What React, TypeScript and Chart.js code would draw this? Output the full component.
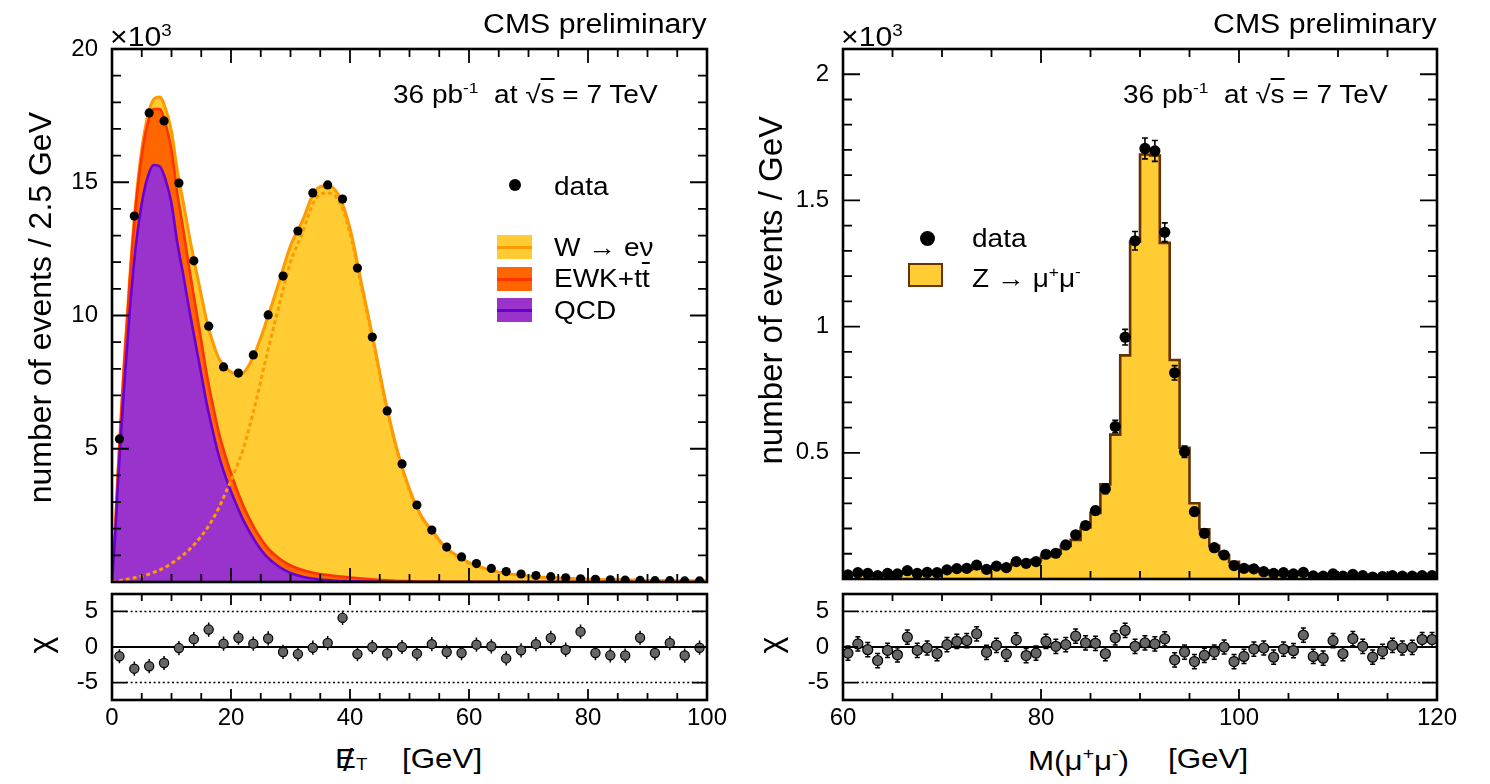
import React, { useEffect, useRef } from 'react';
import { Chart, registerables } from 'chart.js';

Chart.register(...registerables);

const FONT = "'Liberation Sans', Arial, Helvetica, sans-serif";
const SX = 1.12;

// ---------------- left panel: missing E_T ----------------
const MET_BIN_CENTERS = [1.25, 3.75, 6.25, 8.75, 11.25, 13.75, 16.25, 18.75, 21.25, 23.75, 26.25, 28.75, 31.25, 33.75, 36.25, 38.75, 41.25, 43.75, 46.25, 48.75, 51.25, 53.75, 56.25, 58.75, 61.25, 63.75, 66.25, 68.75, 71.25, 73.75, 76.25, 78.75, 81.25, 83.75, 86.25, 88.75, 91.25, 93.75, 96.25, 98.75];
const MET_DATA = [5.37, 13.73, 17.6, 17.3, 14.97, 12.05, 9.6, 8.07, 7.84, 8.52, 10.02, 11.48, 13.17, 14.6, 14.9, 14.37, 11.78, 9.19, 6.42, 4.43, 2.89, 1.95, 1.31, 0.94, 0.69, 0.51, 0.39, 0.3, 0.24, 0.2, 0.16, 0.12, 0.1, 0.08, 0.07, 0.06, 0.05, 0.05, 0.04, 0.04];
const MET_CHI = [-1.3, -3.05, -2.7, -2.25, -0.15, 1.1, 2.45, 0.47, 1.3, 0.47, 1.2, -0.7, -1.0, -0.1, 0.56, 4.1, -1.0, 0.0, -0.9, 0.0, -0.94, 0.4, -0.7, -0.85, 0.33, 0.1, -1.6, -0.47, 0.4, 1.27, -0.38, 2.16, -0.85, -1.17, -1.2, 1.3, -0.85, 0.56, -1.2, -0.1];
const MET_CURVE_X = [0, 0.5, 1, 1.5, 2, 3, 4, 5, 6, 7, 8, 9, 10, 11, 12, 13, 14, 15, 16, 17, 18, 19, 20, 21, 22, 24, 26, 28, 30, 32, 34, 36, 38, 40, 42, 44, 46, 48, 50, 52, 54, 56, 58, 60, 62, 65, 70, 75, 80, 85, 90, 95, 100];
const MET_QCD = [0, 1.6, 3.7, 5.5, 7.2, 10.2, 12.6, 14.2, 15.2, 15.65, 15.6, 15.1, 14.2, 12.7, 11.5, 10.2, 9.0, 7.8, 6.6, 5.6, 4.7, 4.0, 3.4, 2.85, 2.35, 1.55, 0.95, 0.58, 0.34, 0.2, 0.12, 0.07, 0.04, 0.03, 0.02, 0.01, 0, 0, 0, 0, 0, 0, 0, 0, 0, 0, 0, 0, 0, 0, 0, 0, 0];
const MET_EWK = [0, 0.2, 0.4, 0.6, 0.8, 1.15, 1.5, 1.8, 2.0, 2.1, 2.15, 2.1, 2.0, 1.85, 1.7, 1.55, 1.4, 1.25, 1.1, 0.98, 0.87, 0.77, 0.68, 0.6, 0.54, 0.44, 0.37, 0.32, 0.28, 0.25, 0.22, 0.2, 0.17, 0.14, 0.11, 0.08, 0.06, 0.04, 0.03, 0.02, 0.02, 0.01, 0.01, 0.01, 0.01, 0, 0, 0, 0, 0, 0, 0, 0];
const MET_WENU = [0, 0.02, 0.04, 0.06, 0.08, 0.12, 0.17, 0.22, 0.28, 0.36, 0.45, 0.56, 0.7, 0.85, 1.02, 1.22, 1.45, 1.72, 2.02, 2.38, 2.8, 3.3, 3.8, 4.35, 4.95, 6.6, 8.5, 10.3, 12.0, 13.1, 14.3, 14.6, 14.35, 13.1, 11.0, 8.9, 6.7, 4.85, 3.45, 2.45, 1.85, 1.3, 0.98, 0.72, 0.55, 0.37, 0.22, 0.15, 0.1, 0.08, 0.06, 0.05, 0.04];
const MET_X_TICKS = [0, 20, 40, 60, 80, 100];
const MET_X_LABELS = ['0', '20', '40', '60', '80', '100'];
const MET_Y_TICKS = [5, 10, 15, 20];
const MET_Y_LABELS = ['5', '10', '15', '20'];

// ---------------- right panel: Z -> mu mu ----------------
const Z_BIN_CENTERS = [60.5, 61.5, 62.5, 63.5, 64.5, 65.5, 66.5, 67.5, 68.5, 69.5, 70.5, 71.5, 72.5, 73.5, 74.5, 75.5, 76.5, 77.5, 78.5, 79.5, 80.5, 81.5, 82.5, 83.5, 84.5, 85.5, 86.5, 87.5, 88.5, 89.5, 90.5, 91.5, 92.5, 93.5, 94.5, 95.5, 96.5, 97.5, 98.5, 99.5, 100.5, 101.5, 102.5, 103.5, 104.5, 105.5, 106.5, 107.5, 108.5, 109.5, 110.5, 111.5, 112.5, 113.5, 114.5, 115.5, 116.5, 117.5, 118.5, 119.5];
const Z_MC = [0.019, 0.02, 0.021, 0.022, 0.023, 0.024, 0.025, 0.026, 0.027, 0.029, 0.034, 0.036, 0.037, 0.041, 0.043, 0.049, 0.052, 0.061, 0.068, 0.076, 0.09, 0.101, 0.131, 0.155, 0.204, 0.262, 0.375, 0.572, 0.886, 1.336, 1.682, 1.678, 1.332, 0.868, 0.52, 0.3, 0.197, 0.132, 0.095, 0.068, 0.051, 0.042, 0.032, 0.028, 0.025, 0.022, 0.019, 0.018, 0.017, 0.016, 0.015, 0.014, 0.013, 0.013, 0.012, 0.012, 0.011, 0.011, 0.01, 0.01];
const Z_DATA = [0.016, 0.025, 0.022, 0.013, 0.022, 0.02, 0.033, 0.022, 0.026, 0.025, 0.036, 0.041, 0.042, 0.055, 0.038, 0.051, 0.045, 0.069, 0.062, 0.069, 0.098, 0.102, 0.135, 0.175, 0.212, 0.271, 0.357, 0.604, 0.958, 1.34, 1.706, 1.696, 1.374, 0.817, 0.504, 0.267, 0.181, 0.124, 0.095, 0.053, 0.042, 0.04, 0.029, 0.022, 0.025, 0.02, 0.026, 0.012, 0.011, 0.02, 0.011, 0.018, 0.013, 0.008, 0.01, 0.013, 0.011, 0.011, 0.013, 0.013];
const Z_DATA_ERR = [0.004, 0.005, 0.0047, 0.0036, 0.0047, 0.0045, 0.0057, 0.0047, 0.0051, 0.005, 0.006, 0.0064, 0.0065, 0.0074, 0.0062, 0.0071, 0.0067, 0.0083, 0.0079, 0.0083, 0.0099, 0.0101, 0.0116, 0.0132, 0.0146, 0.0165, 0.0189, 0.0246, 0.031, 0.0366, 0.0413, 0.0412, 0.0371, 0.0286, 0.0224, 0.0163, 0.0135, 0.0111, 0.0097, 0.0073, 0.0065, 0.0063, 0.0054, 0.0047, 0.005, 0.0045, 0.0051, 0.0035, 0.0033, 0.0045, 0.0033, 0.0042, 0.0036, 0.0028, 0.0032, 0.0036, 0.0033, 0.0033, 0.0036, 0.0036];
const Z_CHI = [-0.86, 0.43, -0.38, -1.9, -0.48, -1.1, 1.38, -0.48, -0.14, -0.95, 0.33, 0.8, 0.9, 1.86, -0.76, 0.24, -1.0, 1.0, -1.2, -0.86, 0.8, 0.1, 0.33, 1.52, 0.57, 0.52, -0.95, 1.29, 2.33, 0.1, 0.57, 0.43, 1.14, -1.8, -0.71, -2.05, -1.19, -0.71, 0.0, -2.05, -1.33, -0.29, -0.14, -1.43, -0.29, -0.52, 1.67, -1.33, -1.57, 0.9, -0.95, 1.19, 0.1, -1.43, -0.62, 0.24, -0.14, -0.05, 1.05, 1.05];
const Z_X_TICKS = [60, 80, 100, 120];
const Z_X_LABELS = ['60', '80', '100', '120'];
const Z_Y_TICKS = [0.5, 1, 1.5, 2];
const Z_Y_LABELS = ['0.5', '1', '1.5', '2'];

// ---------------- residual panels ----------------
const CHI_Y_TICKS = [-5, 0, 5];
const CHI_Y_LABELS = ['-5', '0', '5'];
const CHI_REF_LINES = [-5, 5];
const CHI_ERR = 1;

type Pt = { x: number; y: number };
const pts = (xs: number[], ys: number[]): Pt[] => xs.map((x, i) => ({ x, y: ys[i] }));

function minorTicks(min: number, max: number, step: number, majors: number[]): number[] {
  const out: number[] = [];
  const n = Math.round((max - min) / step);
  for (let i = 0; i <= n; i++) {
    const v = +(min + i * step).toFixed(6);
    if (v > max + 1e-9) break;
    if (!majors.some((m) => Math.abs(m - v) < 1e-6)) out.push(v);
  }
  return out;
}

interface FrameSpec {
  xMajor: number[]; xMinor: number[]; yMajor: number[]; yMinor: number[];
  xMaj: number; xMin: number; yMaj: number; yMin: number;
}

const framePlugin = (f: FrameSpec) => ({
  id: 'rootFrame',
  afterDraw(chart: any) {
    const { ctx, chartArea: a } = chart;
    const sx = chart.scales.x;
    const sy = chart.scales.y;
    ctx.save();
    ctx.strokeStyle = '#000';
    ctx.lineWidth = 1.8;
    ctx.beginPath();
    const xt = (vals: number[], len: number) =>
      vals.forEach((v) => {
        const p = sx.getPixelForValue(v);
        if (p < a.left + 1 || p > a.right - 1) return;
        ctx.moveTo(p, a.bottom); ctx.lineTo(p, a.bottom - len);
        ctx.moveTo(p, a.top); ctx.lineTo(p, a.top + len);
      });
    const yt = (vals: number[], len: number) =>
      vals.forEach((v) => {
        const p = sy.getPixelForValue(v);
        if (p < a.top + 1 || p > a.bottom - 1) return;
        ctx.moveTo(a.left, p); ctx.lineTo(a.left + len, p);
        ctx.moveTo(a.right, p); ctx.lineTo(a.right - len, p);
      });
    xt(f.xMajor, f.xMaj); xt(f.xMinor, f.xMin);
    yt(f.yMajor, f.yMaj); yt(f.yMinor, f.yMin);
    ctx.stroke();
    ctx.lineWidth = 2.6;
    ctx.strokeRect(a.left, a.top, a.right - a.left, a.bottom - a.top);
    ctx.restore();
  },
});

const errorBarPlugin = (xs: number[], ys: number[], errs: number[] | number, cap: number, lw: number) => ({
  id: 'errBars',
  beforeDatasetsDraw(chart: any) {
    const { ctx, chartArea: a } = chart;
    const sx = chart.scales.x;
    const sy = chart.scales.y;
    ctx.save();
    ctx.beginPath(); ctx.rect(a.left, a.top, a.right - a.left, a.bottom - a.top); ctx.clip();
    ctx.strokeStyle = '#000';
    ctx.lineWidth = lw;
    ctx.beginPath();
    xs.forEach((xv, i) => {
      const e = typeof errs === 'number' ? errs : errs[i];
      const px = sx.getPixelForValue(xv);
      const t = sy.getPixelForValue(ys[i] + e);
      const b = sy.getPixelForValue(ys[i] - e);
      ctx.moveTo(px, t); ctx.lineTo(px, b);
      if (cap > 0) {
        ctx.moveTo(px - cap / 2, t); ctx.lineTo(px + cap / 2, t);
        ctx.moveTo(px - cap / 2, b); ctx.lineTo(px + cap / 2, b);
      }
    });
    ctx.stroke();
    ctx.restore();
  },
});

const refLinePlugin = {
  id: 'chiRef',
  beforeDatasetsDraw(chart: any) {
    const { ctx, chartArea: a } = chart;
    const sy = chart.scales.y;
    ctx.save();
    ctx.strokeStyle = '#000';
    ctx.lineWidth = 1.8;
    const y0 = sy.getPixelForValue(0);
    ctx.beginPath(); ctx.moveTo(a.left, y0); ctx.lineTo(a.right, y0); ctx.stroke();
    ctx.lineWidth = 1.4;
    ctx.setLineDash([2, 2.6]);
    CHI_REF_LINES.forEach((v) => {
      const p = sy.getPixelForValue(v);
      ctx.beginPath(); ctx.moveTo(a.left + 14, p); ctx.lineTo(a.right - 4, p); ctx.stroke();
    });
    ctx.restore();
  },
};

const tickFont = { family: FONT, size: 24 };

function yAxis(min: number, max: number, ticks: number[], labels: string[], width: number) {
  return {
    type: 'linear' as const, min, max,
    grid: { display: false, drawTicks: false },
    border: { display: false },
    ticks: { font: tickFont, color: '#000', padding: 14, autoSkip: false, callback: (_v: any, i: number) => labels[i] },
    afterBuildTicks: (s: any) => { s.ticks = ticks.map((value) => ({ value })); },
    afterFit: (s: any) => { s.width = width; s.paddingTop = 0; s.paddingBottom = 0; },
  };
}

function xAxis(min: number, max: number, ticks: number[], labels: string[], show: boolean) {
  if (!show) return { type: 'linear' as const, min, max, display: false };
  return {
    type: 'linear' as const, min, max,
    grid: { display: false, drawTicks: false },
    border: { display: false },
    ticks: { font: tickFont, color: '#000', padding: 4, autoSkip: false, maxRotation: 0, callback: (_v: any, i: number) => labels[i] },
    afterBuildTicks: (s: any) => { s.ticks = ticks.map((value) => ({ value })); },
    afterFit: (s: any) => { s.height = 35; s.paddingLeft = 0; s.paddingRight = 0; },
  };
}

function baseOptions(padding: any, x: any, y: any) {
  return {
    responsive: false,
    animation: false as const,
    events: [] as any[],
    layout: { padding, autoPadding: false },
    plugins: { legend: { display: false }, tooltip: { enabled: false } },
    scales: { x, y },
  };
}

function makeMetMain(c: HTMLCanvasElement) {
  const ewkTop = MET_QCD.map((q, i) => q + MET_EWK[i]);
  const total = ewkTop.map((e, i) => e + MET_WENU[i]);
  const curve = { pointRadius: 0, cubicInterpolationMode: 'monotone' as const };
  return new Chart(c, {
    type: 'line',
    data: {
      datasets: [
        { data: pts(MET_BIN_CENTERS, MET_DATA), showLine: false, pointRadius: 4.6, pointBackgroundColor: '#000', pointBorderWidth: 0 },
        { data: pts(MET_CURVE_X, MET_WENU), borderColor: '#ff9900', borderWidth: 3, borderDash: [4, 3], fill: false, ...curve },
        { data: pts(MET_CURVE_X, MET_QCD), borderColor: '#6a00d6', backgroundColor: '#9933cc', borderWidth: 2.6, fill: 'origin', ...curve },
        { data: pts(MET_CURVE_X, ewkTop), borderColor: '#ff3300', backgroundColor: '#ff6600', borderWidth: 2.6, fill: '-1', ...curve },
        { data: pts(MET_CURVE_X, total), borderColor: '#ff9900', backgroundColor: '#ffcc33', borderWidth: 3, fill: '-1', ...curve },
      ],
    } as any,
    options: baseOptions({ left: 0, top: 49, right: 13, bottom: 8 }, xAxis(0, 100, MET_X_TICKS, MET_X_LABELS, false), yAxis(0, 20, MET_Y_TICKS, MET_Y_LABELS, 112)) as any,
    plugins: [framePlugin({ xMajor: MET_X_TICKS, xMinor: minorTicks(0, 100, 5, MET_X_TICKS), yMajor: MET_Y_TICKS, yMinor: minorTicks(0, 20, 1, MET_Y_TICKS), xMaj: 14, xMin: 8, yMaj: 17, yMin: 9 })],
  });
}

function makeChi(c: HTMLCanvasElement, xs: number[], ys: number[], xmin: number, xmax: number, xt: number[], xl: string[], yw: number, padRight: number, r: number, cap: number) {
  return new Chart(c, {
    type: 'line',
    data: {
      datasets: [
        { data: pts(xs, ys), showLine: false, pointRadius: r, pointBackgroundColor: '#666666', pointBorderColor: '#000', pointBorderWidth: 1.2 },
      ],
    } as any,
    options: baseOptions({ left: 0, top: 9, right: padRight, bottom: 0 }, xAxis(xmin, xmax, xt, xl, true), yAxis(-7.45, 7.45, CHI_Y_TICKS, CHI_Y_LABELS, yw)) as any,
    plugins: [refLinePlugin, errorBarPlugin(xs, ys, CHI_ERR, cap, 1.5), framePlugin({ xMajor: xt, xMinor: minorTicks(xmin, xmax, 5, xt), yMajor: CHI_Y_TICKS, yMinor: [], xMaj: 11, xMin: 7, yMaj: 15, yMin: 8 })],
  });
}

function makeZMain(c: HTMLCanvasElement) {
  const w = Z_BIN_CENTERS[1] - Z_BIN_CENTERS[0];
  const steps: Pt[] = Z_BIN_CENTERS.map((x, i) => ({ x: x - w / 2, y: Z_MC[i] }));
  steps.push({ x: Z_BIN_CENTERS[Z_BIN_CENTERS.length - 1] + w / 2, y: Z_MC[Z_MC.length - 1] });
  return new Chart(c, {
    type: 'line',
    data: {
      datasets: [
        { data: pts(Z_BIN_CENTERS, Z_DATA), showLine: false, pointRadius: 5.6, pointBackgroundColor: '#000', pointBorderWidth: 0 },
        { data: steps, stepped: 'before', borderColor: '#663300', backgroundColor: '#ffcc33', borderWidth: 2.6, fill: 'origin', pointRadius: 0 },
      ],
    } as any,
    options: baseOptions({ left: 0, top: 49, right: 13, bottom: 11 }, xAxis(60, 120, Z_X_TICKS, Z_X_LABELS, false), yAxis(0, 2.1, Z_Y_TICKS, Z_Y_LABELS, 113)) as any,
    plugins: [
      { id: 'zErr', afterDatasetDraw(chart: any, args: any) { if (args.index === 1) errorBarPlugin(Z_BIN_CENTERS, Z_DATA, Z_DATA_ERR, 6, 1.6).beforeDatasetsDraw(chart); } },
      framePlugin({ xMajor: Z_X_TICKS, xMinor: minorTicks(60, 120, 5, Z_X_TICKS), yMajor: Z_Y_TICKS, yMinor: minorTicks(0, 2.1, 0.1, Z_Y_TICKS), xMaj: 14, xMin: 8, yMaj: 17, yMin: 9 }),
    ],
  });
}

function ChartBox({ left, top, width, height, make }: { left: number; top: number; width: number; height: number; make: (c: HTMLCanvasElement) => Chart }) {
  const ref = useRef<HTMLCanvasElement>(null);
  useEffect(() => {
    const ch = make(ref.current as HTMLCanvasElement);
    return () => ch.destroy();
  }, []);
  return <canvas ref={ref} width={width} height={height} style={{ position: 'absolute', left, top, width, height }} />;
}

const base: React.CSSProperties = { position: 'absolute', whiteSpace: 'nowrap', lineHeight: 1, fontFamily: FONT, color: '#000' };

function HText({ left, right, top, size, children }: { left?: number; right?: number; top: number; size: number; children: React.ReactNode }) {
  const st: React.CSSProperties = { ...base, top, fontSize: size, transform: `scaleX(${SX})` };
  if (right !== undefined) { st.right = right; st.transformOrigin = 'right center'; } else { st.left = left; st.transformOrigin = 'left center'; }
  return <div style={st}>{children}</div>;
}

function VText({ cx, yEnd, cy, size, children }: { cx: number; yEnd?: number; cy?: number; size: number; children: React.ReactNode }) {
  const W = 600;
  const top = yEnd !== undefined ? yEnd + W : (cy as number) + W / 2;
  return (
    <div style={{ ...base, left: cx - size / 2, top, width: W, fontSize: size, textAlign: yEnd !== undefined ? 'right' : 'center', transform: 'rotate(-90deg)', transformOrigin: '0 0' }}>
      {children}
    </div>
  );
}

const sup = (s: string) => <span style={{ fontSize: '0.62em', verticalAlign: '0.62em' }}>{s}</span>;
const overline = (s: string) => <span style={{ textDecoration: 'overline' }}>{s}</span>;

function LegendBox({ left, top, fill, line, border }: { left: number; top: number; fill: string; line?: string; border?: string }) {
  return (
    <div style={{ position: 'absolute', left, top, width: 35, height: 24, background: fill, boxSizing: 'border-box', border: border ? `2px solid ${border}` : 'none' }}>
      {line && <div style={{ position: 'absolute', left: 0, right: 0, top: 10.5, height: 3, background: line }} />}
    </div>
  );
}

function Dot({ cx, cy, d }: { cx: number; cy: number; d: number }) {
  return <div style={{ position: 'absolute', left: cx - d / 2, top: cy - d / 2, width: d, height: d, borderRadius: '50%', background: '#000' }} />;
}

export default function App() {
  const lumi = (
    <>36 pb{sup('-1')}&nbsp; at √{overline('s')} = 7 TeV</>
  );
  return (
    <div style={{ position: 'absolute', left: 0, top: 0, width: 1490, height: 784, background: '#fff', overflow: 'hidden' }}>
      <ChartBox left={0} top={0} width={720} height={590} make={makeMetMain} />
      <ChartBox left={0} top={585} width={745} height={150} make={(c) => makeChi(c, MET_BIN_CENTERS, MET_CHI, 0, 100, MET_X_TICKS, MET_X_LABELS, 112, 38, 4.6, 0)} />
      <ChartBox left={730} top={0} width={720} height={590} make={makeZMain} />
      <ChartBox left={730} top={585} width={760} height={150} make={(c) => makeChi(c, Z_BIN_CENTERS, Z_CHI, 60, 120, Z_X_TICKS, Z_X_LABELS, 113, 53, 5, 5)} />

      {/* left panel annotations */}
      <HText right={1490 - 707} top={11} size={27}>CMS preliminary</HText>
      <HText left={110} top={23} size={27}>×10{sup('3')}</HText>
      <HText left={393} top={80} size={25}>{lumi}</HText>
      <Dot cx={515} cy={185} d={12} />
      <HText left={554} top={174} size={25}>data</HText>
      <LegendBox left={497} top={235} fill="#ffcc33" line="#ff9900" />
      <HText left={554} top={235} size={25}>W → eν</HText>
      <LegendBox left={497} top={267} fill="#ff6600" line="#ff3300" />
      <HText left={554} top={266} size={25}>EWK+t{overline('t')}</HText>
      <LegendBox left={497} top={298} fill="#9933cc" line="#6600cc" />
      <HText left={554} top={298} size={25}>QCD</HText>
      <VText cx={40} yEnd={112} size={32}>number of events / 2.5 GeV</VText>
      <VText cx={40} cy={645} size={32}>χ</VText>
      <HText left={335} top={745} size={28}>
        <span style={{ position: 'relative', display: 'inline-block' }}>E<span style={{ position: 'absolute', left: '0.22em', top: '-0.02em', fontSize: '1.15em' }}>/</span></span>
        <span style={{ fontSize: '0.6em', verticalAlign: '-0.12em' }}>T</span>
      </HText>
      <HText left={402} top={745} size={28}>[GeV]</HText>

      {/* right panel annotations */}
      <HText right={1490 - 1437} top={11} size={27}>CMS preliminary</HText>
      <HText left={841} top={23} size={27}>×10{sup('3')}</HText>
      <HText left={1123} top={80} size={25}>{lumi}</HText>
      <Dot cx={927} cy={238} d={15} />
      <HText left={972} top={226} size={25}>data</HText>
      <LegendBox left={908} top={263} fill="#ffcc33" border="#663300" />
      <HText left={972} top={264} size={25}>Z → μ{sup('+')}μ{sup('-')}</HText>
      <VText cx={770} yEnd={116} size={33}>number of events / GeV</VText>
      <VText cx={770} cy={645} size={32}>χ</VText>
      <HText left={1028} top={745} size={28}>M(μ{sup('+')}μ{sup('-')})</HText>
      <HText left={1168} top={745} size={28}>[GeV]</HText>
    </div>
  );
}
